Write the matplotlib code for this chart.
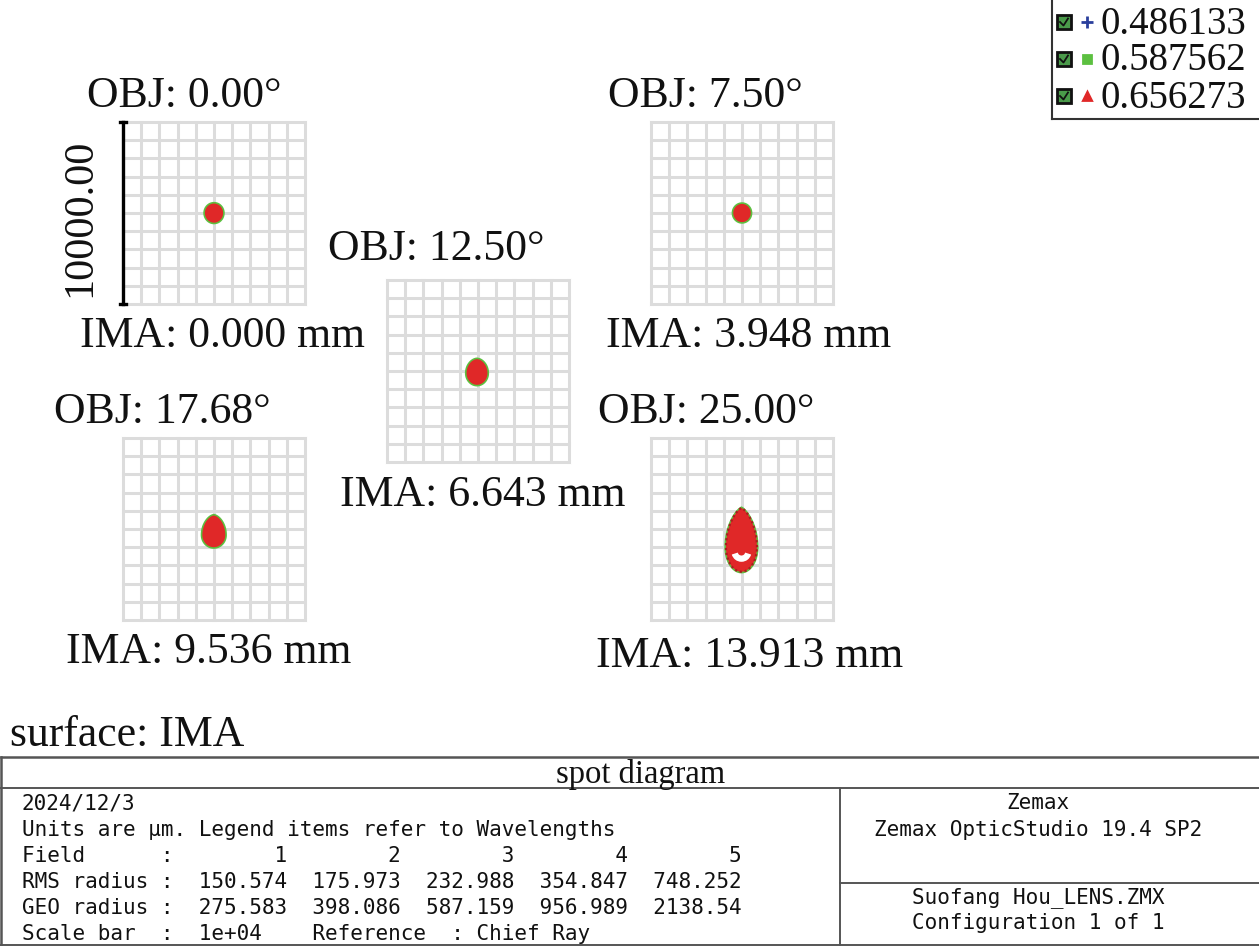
import numpy as np
import matplotlib
matplotlib.use("Agg")
import matplotlib.pyplot as plt
from matplotlib.patches import Polygon, Rectangle, Arc

# ---------------- data ----------------
field_angles = [0.00, 7.50, 12.50, 17.68, 25.00]          # OBJ (deg)
ima_heights = [0.000, 3.948, 6.643, 9.536, 13.913]        # IMA (mm)
wavelengths = [0.486133, 0.587562, 0.656273]
wave_colors = ["#2a3f9c", "#5cc040", "#e02828"]
wave_markers = ["+", "s", "^"]
rms_radius = [150.574, 175.973, 232.988, 354.847, 748.252]
geo_radius = [275.583, 398.086, 587.159, 956.989, 2138.54]
scale_bar = 1e4
# spot extents (um, relative to chief ray)
spot_xmin = [-500, -480, -630, -640, -880]
spot_xmax = [500, 480, 520, 620, 820]
spot_ymin = [-530, -500, -760, -1000, -2350]
spot_ymax = [520, 500, 650, 740, 1150]
spot_ywide = [0, 0, -120, -330, -1000]
spot_point = [1.0, 1.0, 1.1, 1.2, 1.45]

W, H = 1259, 946
fig = plt.figure(figsize=(W / 100, H / 100), dpi=100)
fig.patch.set_facecolor("white")
SERIF = "Liberation Serif"
MONO = "DejaVu Sans Mono"


def fx(x):
    return x / W


def fy(y):
    return 1 - y / H


# panel layout: (left px, top px), size 182 px
panels = [(123, 122), (651, 122), (387, 280), (123, 438), (651, 438)]
obj_pos = [(184, 96), (705, 96), (436, 249), (162, 412), (706, 412)]
ima_pos = [(222, 336), (749, 336), (483, 495), (209, 652), (750, 656)]
SZ = 182


def egg(i, pad):
    t = np.linspace(0, 2 * np.pi, 200)
    xc = (spot_xmin[i] + spot_xmax[i]) / 2
    a = (spot_xmax[i] - spot_xmin[i]) / 2 + pad
    yw = spot_ywide[i]
    up = np.sin(t) >= 0
    c = np.cos(t)
    s = np.sin(t)
    x = np.where(up, xc + a * np.sign(c) * np.abs(c) ** spot_point[i], xc + a * c)
    y = np.where(up, yw + (spot_ymax[i] - yw + pad) * s, yw + (yw - spot_ymin[i] + pad) * s)
    return np.column_stack([x, y])


for i, (lx, ty) in enumerate(panels):
    ax = fig.add_axes([fx(lx), fy(ty + SZ), SZ / W, SZ / H])
    ax.set_xlim(-scale_bar / 2, scale_bar / 2)
    ax.set_ylim(-scale_bar / 2, scale_bar / 2)
    for v in np.linspace(-scale_bar / 2, scale_bar / 2, 11):
        ax.axhline(v, color="#dcdcdc", lw=2.2, zorder=1, clip_on=False)
        ax.axvline(v, color="#dcdcdc", lw=2.2, zorder=1, clip_on=False)
    ax.set_xticks([])
    ax.set_yticks([])
    for sp in ax.spines.values():
        sp.set_visible(False)
    # spots: green (outer) then red
    ax.add_patch(Polygon(egg(i, 90), closed=True, fc=wave_colors[1], ec="none", zorder=3))
    ax.add_patch(Polygon(egg(i, 0), closed=True, fc=wave_colors[2], ec="none", zorder=4))
    if i == 4:
        ax.add_patch(Polygon(egg(i, 0), closed=True, fc="none", ec="#a82020",
                             lw=1.6, ls=(0, (1, 1.2)), zorder=5))
        ax.add_patch(Arc((-30, -1250), 760, 760, theta1=195, theta2=345,
                         color="white", lw=4.5, zorder=6))
    if i == 0:
        # scale bar
        xb = -scale_bar / 2
        ax.plot([xb, xb], [-scale_bar / 2, scale_bar / 2], color="black", lw=2.4,
                clip_on=False, zorder=7)
        for yb in (-scale_bar / 2, scale_bar / 2):
            ax.plot([xb - 170, xb + 170], [yb, yb], color="black", lw=2.4,
                    clip_on=False, zorder=7)
    fig.text(fx(obj_pos[i][0]), fy(obj_pos[i][1]), f"OBJ: {field_angles[i]:.2f}°",
             ha="center", va="center", family=SERIF, fontsize=31.5, color="#111111")
    fig.text(fx(ima_pos[i][0]), fy(ima_pos[i][1]), f"IMA: {ima_heights[i]:.3f} mm",
             ha="center", va="center", family=SERIF, fontsize=31.5, color="#111111")

fig.text(fx(80), fy(218), f"{scale_bar:.2f}", rotation=90, ha="center", va="center",
         family=SERIF, fontsize=30.5, color="#111111")

fig.text(fx(10), fy(735), "surface: IMA", ha="left", va="center", family=SERIF,
         fontsize=31.5, color="#111111")

# ---------------- legend ----------------
lax = fig.add_axes([fx(1052), fy(119), (W - 1052) / W, 119 / H])
lax.set_xlim(1052, 1259)
lax.set_ylim(119, 0)
lax.set_xticks([])
lax.set_yticks([])
for k, sp in lax.spines.items():
    sp.set_visible(k in ("left", "bottom"))
    sp.set_linewidth(1.5)
    sp.set_color("#333333")
row_y = [22, 59, 96]
for j, w in enumerate(wavelengths):
    yy = row_y[j]
    lax.add_patch(Rectangle((1057, yy - 7), 14, 14, fc="#4a9a4a", ec="#111111", lw=2))
    lax.plot([1060, 1063.5, 1068], [yy, yy + 3.5, yy - 3.5], color="#111111", lw=1.3)
    ms = 8 if wave_markers[j] == "+" else 6
    lax.plot([1087], [yy], marker=wave_markers[j], color=wave_colors[j], ms=ms,
             mew=2, ls="none")
    lax.text(1100, yy + 2, f"{w:.6f}", ha="left", va="center", family=SERIF,
             fontsize=28, color="#111111")

# ---------------- table ----------------
tax = fig.add_axes([0, 0, 1, 1], zorder=-1)
tax.set_xlim(0, W)
tax.set_ylim(H, 0)
tax.axis("off")
lc = "#555555"
tax.plot([1, 1259], [757, 757], color=lc, lw=1.8)
tax.plot([1, 1259], [788, 788], color=lc, lw=1.4)
tax.plot([1, 1259], [945, 945], color=lc, lw=1.4)
tax.plot([1, 1], [757, 946], color=lc, lw=1.8)
tax.plot([840, 840], [788, 946], color=lc, lw=1.4)
tax.plot([840, 1259], [883, 883], color=lc, lw=1.4)

tax.text(641, 774, "spot diagram", ha="center", va="center", family=SERIF,
         fontsize=23.5, color="#111111")

field_line = "Field      :" + "".join(f"{n:>9d}" for n in range(1, len(rms_radius) + 1))
rms_line = "RMS radius :" + "".join(f"{v:>9.6g}" for v in rms_radius)
geo_line = "GEO radius :" + "".join(f"{v:>9.6g}" for v in geo_radius)
scale_line = f"Scale bar  :  {scale_bar:.0e}" + "    Reference  : Chief Ray"
left_lines = ["2024/12/3", "Units are µm. Legend items refer to Wavelengths",
              field_line, rms_line, geo_line, scale_line]
ly = [803, 830, 856, 882, 908, 934]
for t, yy in zip(left_lines, ly):
    tax.text(22, yy, t, ha="left", va="center", family=MONO, fontsize=15.1,
             color="#111111")

right_lines = [("Zemax", 803), ("Zemax OpticStudio 19.4 SP2", 830),
               ("Suofang Hou_LENS.ZMX", 898), ("Configuration 1 of 1", 923)]
for t, yy in right_lines:
    tax.text(1038, yy, t, ha="center", va="center", family=MONO, fontsize=15.1,
             color="#111111")

fig.savefig("out.png", dpi=100, facecolor="white")
